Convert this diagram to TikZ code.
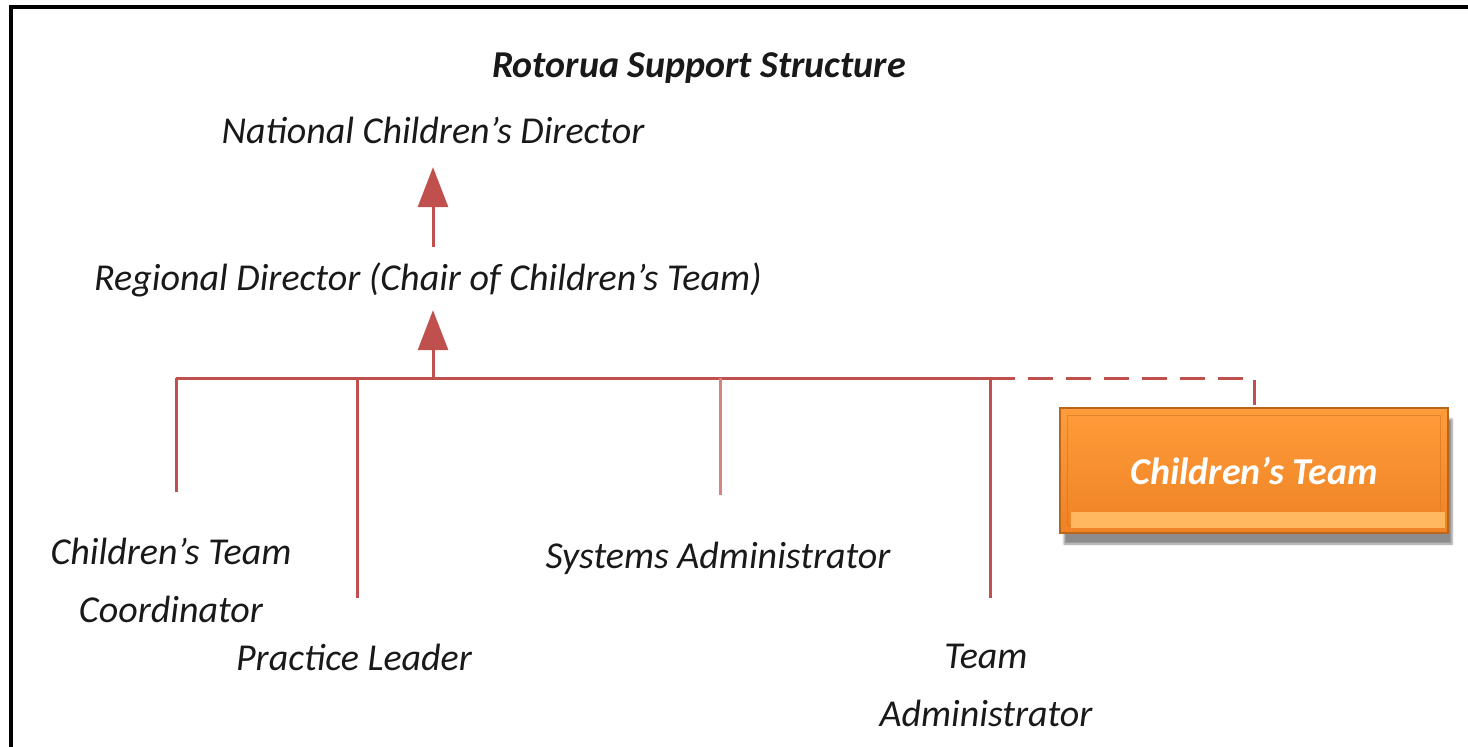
\documentclass[tikz,border=0pt]{standalone}
\usepackage{fontspec}
\setmainfont{Carlito}
\usetikzlibrary{arrows.meta,shadows.blur}
\definecolor{linkred}{HTML}{C0504D}
\definecolor{boxtop}{HTML}{FF9C3A}
\definecolor{boxbottom}{HTML}{EE8224}
\definecolor{boxedge}{HTML}{B8661C}
\definecolor{boxlight}{HTML}{FFB860}

\begin{document}
\begin{tikzpicture}[x=1pt,y=-1pt]
\tikzstyle{role}=[font=\fontsize{38}{58}\selectfont\itshape, text=black!90, inner sep=0pt, align=center]
\tikzstyle{heading}=[role, anchor=base, font=\fontsize{38}{58}\selectfont\bfseries\itshape]
\tikzstyle{oneline}=[role, anchor=base, text height=27pt, text depth=9pt]
\tikzstyle{link}=[linkred, line width=3pt]
\tikzstyle{uparrow}=[link, -{Triangle[width=30pt,length=40pt]}]
\tikzstyle{teambox}=[draw=boxedge, line width=1.5pt, top color=boxtop, bottom color=boxbottom, minimum width=388pt, minimum height=125pt, inner sep=0pt, text=white, font=\fontsize{38}{58}\selectfont\bfseries\itshape, blur shadow={shadow xshift=4pt, shadow yshift=-11pt, shadow blur steps=6, shadow opacity=45}]

\useasboundingbox (0,0) rectangle (1468,747);
\draw[line width=4.5pt] (11,747) -- (11,7) -- (1468,7);

\node[heading] (head) at (699,77) {Rotorua Support Structure};
\node[oneline] (ncd) at (433,143) {National Children's Director};
\node[oneline] (rd) at (428,290) {Regional Director (Chair of Children's Team)};
\node[role, anchor=north] (ctc) at (171,538) {Children's Team\\Coordinator};
\node[oneline] (pl) at (354,670) {Practice Leader};
\node[oneline] (sa) at (718,568) {Systems Administrator};
\node[role, anchor=north] (ta) at (986,644) {Team\\Administrator};
\node[teambox] (team) at (1254,470.5) {Children's Team};
\draw[boxbottom!85!black, line width=1pt, opacity=0.5] ([xshift=8pt,yshift=-8pt]team.north west) rectangle ([xshift=-8pt,yshift=8pt]team.south east);
\fill[boxlight] ([xshift=12pt,yshift=6pt]team.south west) rectangle ([xshift=-4pt,yshift=22pt]team.south east);

\coordinate (bus) at (433,378);
\coordinate (d1) at (176,378);
\coordinate (d2) at (357,378);
\coordinate (d3) at (720,378);
\coordinate (d4) at (990,378);
\coordinate (d5) at (team.north |- bus);

\draw[uparrow, shorten <=16pt, shorten >=15pt] (rd.north -| ncd.south) -- (ncd.south);
\draw[uparrow, shorten >=11pt] (bus) -- (bus |- rd.south);
\draw[link] (d1) -- (d4);
\draw[link, dash pattern=on 25pt off 13pt] (d4) -- (d5) -- (team.north);
\draw[link, shorten >=46pt] (d1) -- (d1 |- ctc.north);
\draw[link, shorten >=45pt] (d2) -- (d2 |- pl.north);
\draw[link, linkred!70, shorten >=46pt] (d3) -- (d3 |- sa.north);
\draw[link, shorten >=46pt] (d4) -- (d4 |- ta.north);
\end{tikzpicture}
\end{document}
